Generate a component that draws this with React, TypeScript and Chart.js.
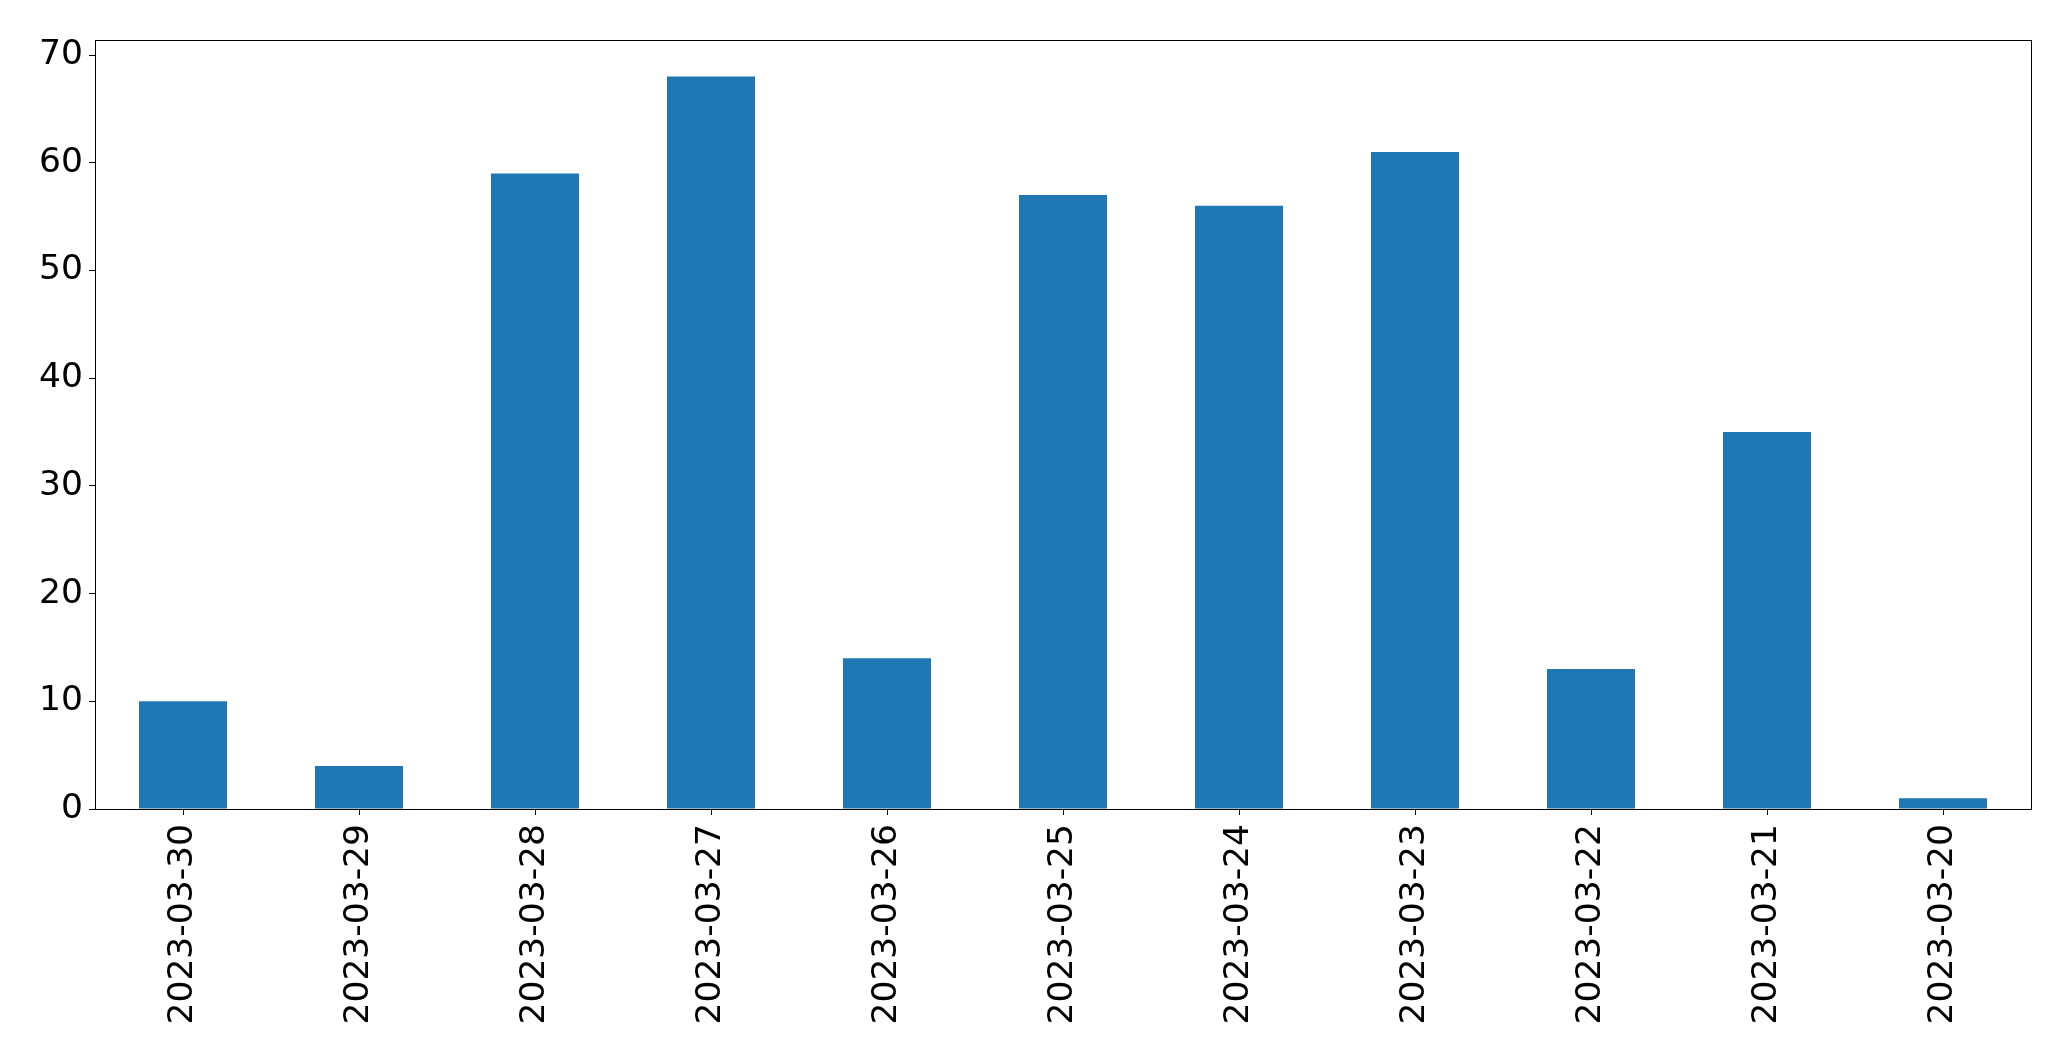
import React, { useEffect, useRef } from "react";
import { Chart, registerables } from "chart.js";

Chart.register(...registerables);

const categories = [
  "2023-03-30", "2023-03-29", "2023-03-28", "2023-03-27", "2023-03-26", "2023-03-25",
  "2023-03-24", "2023-03-23", "2023-03-22", "2023-03-21", "2023-03-20",
];
const counts = [10, 4, 59, 68, 14, 57, 56, 61, 13, 35, 1];
const yTicks = [0, 10, 20, 30, 40, 50, 60, 70];

const frame = {
  id: "frame",
  afterDraw(chart: any) {
    const { ctx, chartArea: a } = chart;
    ctx.save();
    ctx.strokeStyle = "#000";
    ctx.lineWidth = 1;
    ctx.strokeRect(Math.round(a.left) + 0.5, Math.round(a.top) + 0.5, Math.round(a.right - a.left), Math.round(a.bottom - a.top));
    ctx.restore();
  },
};

export default function App() {
  const ref = useRef<HTMLCanvasElement>(null);
  useEffect(() => {
    const font = { family: "DejaVu Sans", size: 34.5 };
    const chart = new Chart(ref.current!, {
      type: "bar",
      data: {
        labels: categories,
        datasets: [{
          data: counts,
          backgroundColor: "#1f77b4",
          barPercentage: 0.5,
          categoryPercentage: 1,
        }],
      },
      options: {
        animation: false,
        responsive: false,
        maintainAspectRatio: false,
        layout: { padding: { left: 0, top: 40, right: 40, bottom: 0 } },
        plugins: { legend: { display: false }, tooltip: { enabled: false } },
        scales: {
          x: {
            offset: true,
            grid: { offset: false, drawOnChartArea: false, drawTicks: true, tickLength: 6, color: "#000" },
            border: { display: true, color: "#000" },
            ticks: { color: "#000", font, minRotation: 90, maxRotation: 90, padding: 9, autoSkip: false },
            afterFit(s: any) { s.height = 252; },
          },
          y: {
            min: 0,
            max: 71.4,
            grid: { drawOnChartArea: false, drawTicks: true, tickLength: 6, color: "#000" },
            border: { display: true, color: "#000" },
            ticks: { color: "#000", font, stepSize: 10, padding: 6 },
            afterBuildTicks(s: any) { s.ticks = yTicks.map((v) => ({ value: v })); },
            afterFit(s: any) { s.width = 95; },
          },
        },
      },
      plugins: [frame],
    });
    return () => chart.destroy();
  }, []);
  return (
    <div style={{ position: "fixed", left: 0, top: 0, width: 2071, height: 1061, background: "#fff" }}>
      <canvas ref={ref} width={2071} height={1061} style={{ width: 2071, height: 1061 }} />
    </div>
  );
}
